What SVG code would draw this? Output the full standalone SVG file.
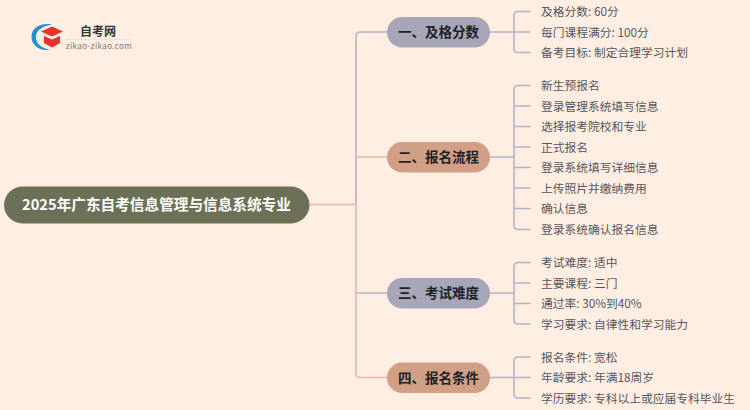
<svg xmlns="http://www.w3.org/2000/svg" width="750" height="410" viewBox="0 0 750 410">
<style>
text{font-family:"Noto Sans CJK SC","Noto Sans",sans-serif}
.l{font-size:11.75px;fill:#55555f;dominant-baseline:central}
.t{font-size:13.5px;font-weight:700;fill:#1f1f26;text-anchor:middle;dominant-baseline:central}
.c{fill:none;stroke-width:1.6;stroke-linecap:round}
.b{stroke:#b3b3c9}.o{stroke:#e6b9a4}
</style>
<rect width="750" height="410" fill="#ffeee1"/>
<g id="logo">
<path d="M52 24.500C40 22.500 31.500 28 31.500 37C31.500 45.500 40 51.500 50 49.500C42 48.500 36 44 36 37C36 30 43 26 52 24.500Z" fill="#2590d0"/>
<path d="M41 31.500L52 26.500L63 31.500L52 36.500Z" fill="#e5322d"/>
<path d="M44 36L52 39.500L60 36V43L52 47.500L44 43Z" fill="#e5322d"/>
<text x="98" y="30.500" font-size="12" font-weight="700" fill="#33333a" text-anchor="middle" dominant-baseline="central">自考网</text>
<path d="M66 39.500H131" stroke="#e8e2dc" stroke-width="1"/>
<text x="99" y="45" font-size="8" fill="#77777c" text-anchor="middle" dominant-baseline="central" letter-spacing=".4">zikao-zikao.com</text>
</g>
<g id="connectors">
<path class="c o" d="M310 204.500H356"/>
<path class="c b" d="M387 32H360Q356 32 356 36V204.500"/>
<path class="c o" d="M387 157H356"/>
<path class="c b" d="M387 293H356"/>
<path class="c o" d="M387 377.500H360Q356 377.500 356 373.500V204.500"/>
<path class="c b" d="M490 32H514M530 11.500H518Q514 11.500 514 15.500V48.500Q514 52.500 518 52.500H530M514 32H530"/>
<path class="c b" d="M490 157H514"/>
<path class="c b" d="M530 85.500H518Q514 85.500 514 89.500V225.500Q514 229.500 518 229.500H530M514 106H530M514 126.500H530M514 147H530M514 167.500H530M514 188H530M514 208.500H530"/>
<path class="c b" d="M490 293H514M530 262.500H518Q514 262.500 514 266.500V320Q514 324 518 324H530M514 283H530M514 303.500H530"/>
<path class="c b" d="M490 377.500H530M530 357H518Q514 357 514 361V394Q514 398 518 398H530"/>
</g>
<g id="root"><rect x="4" y="186.500" width="305.500" height="37" rx="18.500" fill="#6b7057"/><text x="156.500" y="203.500" font-size="14.650" font-weight="700" fill="#fff" text-anchor="middle" dominant-baseline="central">2025年广东自考信息管理与信息系统专业</text></g>
<g id="topic1"><rect x="387" y="17" width="103" height="30.500" rx="15.250" fill="#a6a6b8"/><text class="t" x="438.500" y="31">一、及格分数</text></g>
<g id="topic2"><rect x="387" y="142" width="103" height="30.500" rx="15.250" fill="#d19f85"/><text class="t" x="438.500" y="156">二、报名流程</text></g>
<g id="topic3"><rect x="387" y="278" width="103" height="30.500" rx="15.250" fill="#a6a6b8"/><text class="t" x="438.500" y="292">三、考试难度</text></g>
<g id="topic4"><rect x="387" y="362.500" width="103" height="30.500" rx="15.250" fill="#d19f85"/><text class="t" x="438.500" y="376.500">四、报名条件</text></g>
<g id="leaves">
<text class="l" x="541" y="10.500">及格分数: 60分</text>
<text class="l" x="541" y="31">每门课程满分: 100分</text>
<text class="l" x="541" y="51.500">备考目标: 制定合理学习计划</text>
<text class="l" x="541" y="84.500">新生预报名</text>
<text class="l" x="541" y="105">登录管理系统填写信息</text>
<text class="l" x="541" y="125.500">选择报考院校和专业</text>
<text class="l" x="541" y="146">正式报名</text>
<text class="l" x="541" y="166.500">登录系统填写详细信息</text>
<text class="l" x="541" y="187">上传照片并缴纳费用</text>
<text class="l" x="541" y="207.500">确认信息</text>
<text class="l" x="541" y="228.500">登录系统确认报名信息</text>
<text class="l" x="541" y="261.500">考试难度: 适中</text>
<text class="l" x="541" y="282">主要课程: 三门</text>
<text class="l" x="541" y="302.500">通过率: 30%到40%</text>
<text class="l" x="541" y="323">学习要求: 自律性和学习能力</text>
<text class="l" x="541" y="356">报名条件: 宽松</text>
<text class="l" x="541" y="376.500">年龄要求: 年满18周岁</text>
<text class="l" x="541" y="397">学历要求: 专科以上或应届专科毕业生</text>
</g>
</svg>
